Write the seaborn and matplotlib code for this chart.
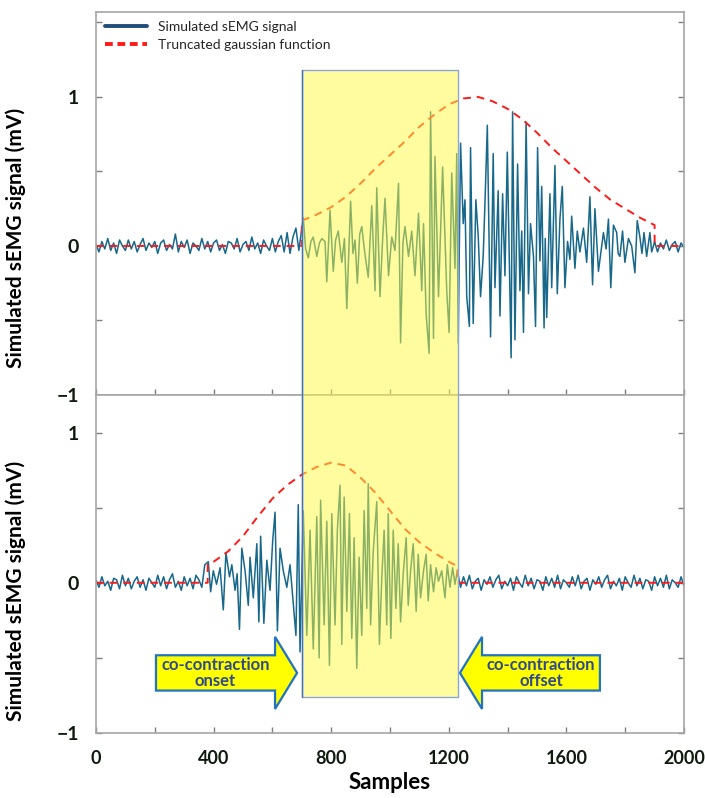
import numpy as np
import pandas as pd
import seaborn as sns
import matplotlib
matplotlib.use("Agg")
import matplotlib.pyplot as plt
from matplotlib.patches import Rectangle, FancyArrow
from matplotlib.lines import Line2D

# ---------------- data ----------------
STEP = 10
TOP_PRE = [0.01, -0.04, 0.03, -0.02, 0.05, -0.03, 0.02, -0.05, 0.04, 0.00,
           -0.03, 0.04, -0.02, 0.03, -0.04, 0.01, 0.05, -0.03, 0.02, -0.01,
           0.03, -0.05, 0.02, 0.04, -0.03, 0.01, -0.02, 0.08, -0.04, 0.03,
           -0.01, 0.04, -0.05, 0.02, 0.00, -0.03, 0.05, -0.02, 0.03, -0.04,
           0.02, 0.04, -0.03, 0.01, -0.05, 0.03, 0.02, -0.02, 0.05, -0.04,
           0.01, 0.03, -0.03, 0.06, -0.02, 0.02, -0.05, 0.04, 0.00, -0.03,
           0.05, -0.04, 0.03, 0.07, -0.04, 0.09, -0.05, 0.06, 0.12, -0.03]
TOP_ACT_X = [705, 713, 722, 731, 739, 751, 760, 768, 779, 785, 796, 807, 815, 824, 836, 845,
             853, 866, 874, 881, 889, 897, 904, 915, 926, 938, 949, 955, 966, 975, 983, 995,
             1006, 1017, 1029, 1036, 1044, 1051, 1063, 1074, 1085, 1097, 1108, 1114, 1123,
             1133, 1138, 1148, 1153, 1165, 1172, 1179, 1187, 1193, 1201, 1210, 1221, 1227,
             1232, 1240, 1249, 1255, 1261, 1270, 1274, 1283, 1292, 1300, 1308, 1317, 1324,
             1331, 1342, 1351, 1357, 1368, 1374, 1383, 1391, 1399, 1412, 1417, 1425, 1434,
             1442, 1448, 1454, 1463, 1471, 1478, 1488, 1495, 1502, 1510, 1516, 1524, 1528,
             1533, 1544, 1550, 1561, 1569, 1578, 1586, 1595, 1604, 1612, 1618, 1629, 1637,
             1646, 1658, 1669, 1680, 1689, 1697, 1709, 1720, 1726, 1735, 1743, 1751, 1760,
             1771, 1776, 1782, 1791, 1799, 1811, 1822, 1833, 1841, 1850, 1857, 1864, 1873,
             1884, 1890, 1896]
TOP_ACT_Y = [0.19, -0.02, -0.08, 0.03, 0.06, -0.07, 0.02, 0.05, 0.03, -0.24, 0.24, -0.17, 0.04, 0.10, -0.11, 0.05,
             -0.42, 0.30, -0.05, 0.04, -0.25, 0.08, 0.13, -0.06, -0.21, 0.27, -0.30, 0.39, -0.34, 0.05, 0.32, -0.20,
             0.06, -0.03, 0.42, -0.65, 0.02, 0.13, -0.07, 0.10, -0.20, 0.22, -0.30, 0.15, -0.46,
             -0.72, 0.90, -0.62, 0.60, -0.34, 0.10, 0.53, 0.06, -0.30, -0.58, 0.49, -0.15, 0.62,
             -0.65, 0.69, 0.15, 0.31, -0.34, -0.54, 0.66, -0.52, 0.31, 0.07, -0.34, -0.07, 0.35,
             0.81, -0.61, 0.62, -0.28, 0.37, -0.47, 0.35, -0.20, 0.63, -0.75, 0.90, -0.63, 0.55,
             -0.30, 0.10, -0.58, 0.83, -0.32, 0.15, -0.07, -0.54, 0.66, -0.10, 0.40, -0.55, 0.05,
             -0.48, 0.35, -0.28, 0.54, -0.32, 0.18, 0.40, -0.28, 0.03, -0.09, 0.20, -0.15, 0.10,
             -0.04, 0.12, -0.11, 0.33, -0.26, 0.25, -0.17, 0.00, 0.09, -0.02, 0.18, -0.28, 0.14,
             0.09, -0.05, -0.07, 0.10, -0.11, 0.05, 0.00, -0.18, 0.17, 0.06, -0.05, 0.09, -0.07,
             0.09, -0.04, 0.00]
TOP_POST = [0.03, -0.04, 0.02, -0.02, 0.04, -0.03, 0.01, 0.03, -0.04, 0.02, -0.01]

BOT_PRE = [0.02, -0.03, 0.04, -0.02, 0.01, -0.05, 0.03, 0.02, -0.04, 0.05,
           -0.02, 0.03, -0.04, 0.01, 0.04, -0.03, 0.02, -0.05, 0.03, 0.00,
           -0.03, 0.05, -0.02, 0.04, -0.04, 0.02, 0.06, -0.03, 0.01, -0.05,
           0.04, -0.02, 0.03, -0.04, 0.05, 0.02, -0.03, 0.12]
BOT_ACT_X = [382, 390, 399, 410, 422, 433, 442, 454, 462, 473, 480, 488, 496, 507, 518, 524,
             535, 547, 554, 560, 571, 581, 592, 601, 609, 617, 626, 637, 649, 660, 671, 680,
             688, 694, 705, 717, 728, 739, 751, 759, 764, 776, 785, 794, 802, 813, 821, 830,
             836, 844, 853, 862, 870, 878, 887, 895, 904, 912, 921, 926, 934, 943, 955, 964,
             972, 980, 989, 994, 1003, 1011, 1020, 1028, 1036, 1045, 1055, 1062, 1070, 1079,
             1089, 1096, 1104, 1114, 1123, 1130, 1138, 1148, 1157, 1165, 1176, 1187, 1195,
             1204, 1213, 1221, 1229]
BOT_ACT_Y = [0.14, -0.06, 0.08, -0.01, 0.10, -0.18, 0.20, 0.04, 0.12, -0.05, 0.06, -0.31, 0.23, 0.08, -0.15, 0.17,
             -0.10, 0.26, -0.26, 0.31, -0.27, 0.15, -0.05, 0.28, 0.47, -0.32, 0.23, 0.08, -0.03, 0.12, -0.14, -0.35,
             0.52, -0.46, 0.48, -0.35, 0.35, -0.44, 0.44, -0.50, 0.55, -0.28, 0.41, -0.55, 0.46, -0.28, 0.35, 0.65,
             -0.41, 0.57, -0.19, 0.46, -0.37, 0.30, -0.57, 0.17, -0.35, 0.48, -0.17, 0.66, -0.28, 0.21, 0.54, -0.41,
             0.03, 0.35, -0.28, 0.46, -0.37, 0.35, -0.17, 0.26, -0.26, 0.06, 0.30, -0.15, 0.08, 0.26,
             -0.19, 0.19, -0.10, 0.08, 0.19, -0.12, 0.12, -0.06, 0.10, 0.01, 0.08, -0.10, 0.12,
             -0.03, 0.10, -0.01, 0.08]
BOT_POST = [-0.03, 0.04, -0.02, 0.05, -0.04, 0.01, 0.03, -0.05, 0.02, -0.01,
            0.04, -0.03, 0.02, 0.05, -0.04, 0.01, -0.02, 0.03, -0.05, 0.04,
            0.00, -0.03, 0.05, -0.02, 0.03, -0.04, 0.02, 0.01, -0.05, 0.04,
            -0.02, 0.03, -0.03, 0.05, -0.04, 0.02, 0.00, -0.03, 0.04, -0.02,
            0.05, -0.04, 0.01, 0.03, -0.05, 0.02, -0.01, 0.04, -0.03, 0.02,
            0.05, -0.04, 0.01, -0.02, 0.03, -0.05, 0.04, 0.00, -0.03, 0.05,
            -0.02, 0.03, -0.04, 0.02, 0.01, -0.05, 0.04, -0.02, 0.03, -0.03,
            0.05, -0.04, 0.02, 0.00, -0.03, 0.04, -0.02]

TOP_GAUSS_X = [0, 700, 700, 750, 800, 850, 900, 950, 1000, 1050, 1100, 1150, 1200, 1250, 1300,
               1350, 1400, 1450, 1500, 1550, 1600, 1650, 1700, 1750, 1800, 1850, 1900, 1900, 2000]
TOP_GAUSS_Y = [0, 0, 0.17, 0.21, 0.26, 0.33, 0.42, 0.52, 0.61, 0.70, 0.80, 0.88, 0.95, 0.99, 1.00,
               0.97, 0.92, 0.85, 0.76, 0.66, 0.57, 0.48, 0.39, 0.31, 0.25, 0.19, 0.14, 0, 0]
BOT_GAUSS_X = [0, 380, 380, 400, 450, 500, 550, 600, 650, 700, 750, 800, 850, 900, 950, 1000,
               1050, 1100, 1150, 1200, 1230, 1230, 2000]
BOT_GAUSS_Y = [0, 0, 0.12, 0.14, 0.21, 0.31, 0.44, 0.56, 0.65, 0.72, 0.77, 0.80, 0.78, 0.70, 0.60, 0.48,
               0.36, 0.27, 0.20, 0.14, 0.11, 0, 0]

ONSET, OFFSET = 700, 1230
XTICKS = [0, 400, 800, 1200, 1600, 2000]
YTICKS = [-1, 0, 1]

SIG_LABEL = "Simulated sEMG signal"
GAUSS_LABEL = "Truncated gaussian function"
YLABEL = "Simulated sEMG signal (mV)"
XLABEL = "Samples"


def build(pre, ax_, ay_, post, pre_start, post_start):
    xs = list(range(pre_start, pre_start + STEP * len(pre), STEP)) + list(ax_) + \
         list(range(post_start, post_start + STEP * len(post), STEP))
    ys = list(pre) + list(ay_) + list(post)
    return pd.DataFrame({"x": xs, "y": ys})


top_df = build(TOP_PRE, TOP_ACT_X, TOP_ACT_Y, TOP_POST, 0, 1900)
bot_df = build(BOT_PRE, BOT_ACT_X, BOT_ACT_Y, BOT_POST, 0, 1240)
top_g = pd.DataFrame({"x": TOP_GAUSS_X, "y": TOP_GAUSS_Y})
bot_g = pd.DataFrame({"x": BOT_GAUSS_X, "y": BOT_GAUSS_Y})

# ---------------- style ----------------
sns.set_style("white")
plt.rcParams["font.family"] = ["Lato", "DejaVu Sans"]
plt.rcParams["axes.unicode_minus"] = True

SIG_COLOR = "#17688a"
RED = "#ff1a1a"
SPINE = "#a6a6a6"
TXT = "#0d1a0d"

fig = plt.figure(figsize=(7.05, 7.98), dpi=100)
L, R = 96 / 705, 684 / 705
def fy(py):
    return 1 - py / 798
ax1 = fig.add_axes([L, fy(395), R - L, fy(12) - fy(395)])
ax2 = fig.add_axes([L, fy(733), R - L, fy(395) - fy(733)])

for ax, sig, g, ylim in ((ax1, top_df, top_g, (-1, 1.57)), (ax2, bot_df, bot_g, (-1, 1.25))):
    sns.lineplot(data=sig, x="x", y="y", ax=ax, color=SIG_COLOR, lw=1.1,
                 estimator=None, sort=False, legend=False)
    sns.lineplot(data=g, x="x", y="y", ax=ax, color=RED, lw=1.4,
                 estimator=None, sort=False, legend=False)
    ax.lines[-1].set_dashes((4, 3))
    ax.set_xlim(0, 2000)
    ax.set_ylim(*ylim)
    ax.set_xticks(np.arange(0, 2001, 200))
    ax.set_yticks(np.arange(-1, ylim[1] + 0.01, 0.5))
    ax.tick_params(axis="both", direction="in", length=4, width=1, color="#7f7f7f",
                   right=True, left=True, bottom=True, top=False,
                   labelsize=13, labelcolor=TXT, pad=12)
    for s in ax.spines.values():
        s.set_color(SPINE)
        s.set_linewidth(1.2)
    ax.set_ylabel(YLABEL, fontsize=15, fontweight="bold", color="black")
    ax.set_xlabel("")

ytl = lambda v: ("\u22121" if v == -1 else str(int(v))) if float(v).is_integer() else ""
for ax in (ax1, ax2):
    ax.set_yticklabels([ytl(v) for v in ax.get_yticks()])
    for t in ax.get_yticklabels():
        t.set_fontweight("bold")
        t.set_fontsize(14)
ax1.set_xticklabels([])
ax2.set_xticklabels([str(int(v)) if int(v) in XTICKS else "" for v in ax2.get_xticks()])
for t in ax2.get_xticklabels():
    t.set_fontweight("bold")
ax2.set_xlabel(XLABEL, fontsize=16, fontweight="bold", color="black", labelpad=4)
ax1.yaxis.set_label_coords(-0.119, 0.41)
ax2.yaxis.set_label_coords(-0.119, 0.42)

# legend
handles = [Line2D([], [], color="#1f4e79", lw=2.8),
           Line2D([], [], color=RED, lw=2.8, dashes=(2, 1.2))]
ax1.legend(handles, [SIG_LABEL, GAUSS_LABEL], loc="upper left", frameon=False,
           fontsize=10, handlelength=3.0, handletextpad=0.8, labelspacing=0.45,
           borderaxespad=0.25, bbox_to_anchor=(0.0, 1.0))

# yellow co-contraction window spanning both panels
inv = fig.transFigure.inverted()
x0, ytop = inv.transform(ax1.transData.transform((ONSET, 1.18)))
x1, ybot = inv.transform(ax2.transData.transform((OFFSET, -0.76)))
rect = Rectangle((x0, ybot), x1 - x0, ytop - ybot, transform=fig.transFigure,
                 facecolor="#fffb40", alpha=0.5, edgecolor="none", zorder=5)
fig.add_artist(rect)
edge = Rectangle((x0, ybot), x1 - x0, ytop - ybot, transform=fig.transFigure,
                 facecolor="none", edgecolor="#8aa6d6", lw=1.0, zorder=6)
fig.add_artist(edge)
fig.add_artist(Line2D([x0, x0], [ybot, ytop], transform=fig.transFigure,
                      color="#3f6fc8", lw=1.0, zorder=6))

# arrows
AR_Y, AR_W, AR_HW, AR_HL = -0.60, 0.235, 0.48, 75
a1 = FancyArrow(204, AR_Y, ONSET - 16 - 204, 0, width=AR_W, head_width=AR_HW,
                head_length=AR_HL, length_includes_head=True,
                facecolor="#ffff00", edgecolor="#1f72c4", lw=1.6, zorder=7)
a2 = FancyArrow(1714, AR_Y, (OFFSET + 8) - 1714, 0, width=AR_W, head_width=AR_HW,
                head_length=AR_HL, length_includes_head=True,
                facecolor="#ffff00", edgecolor="#1f72c4", lw=1.6, zorder=7)
ax2.add_patch(a1)
ax2.add_patch(a2)
ax2.text((204 + ONSET - 16 - AR_HL) / 2, AR_Y, "co-contraction\nonset", ha="center", va="center",
         fontsize=12, fontweight="bold", color="#2e4a8c", linespacing=0.95, zorder=8)
ax2.text((1714 + OFFSET + 8 + AR_HL) / 2, AR_Y, "co-contraction\noffset", ha="center", va="center",
         fontsize=12, fontweight="bold", color="#2e4a8c", linespacing=0.95, zorder=8)

fig.savefig("out.png", dpi=100)
